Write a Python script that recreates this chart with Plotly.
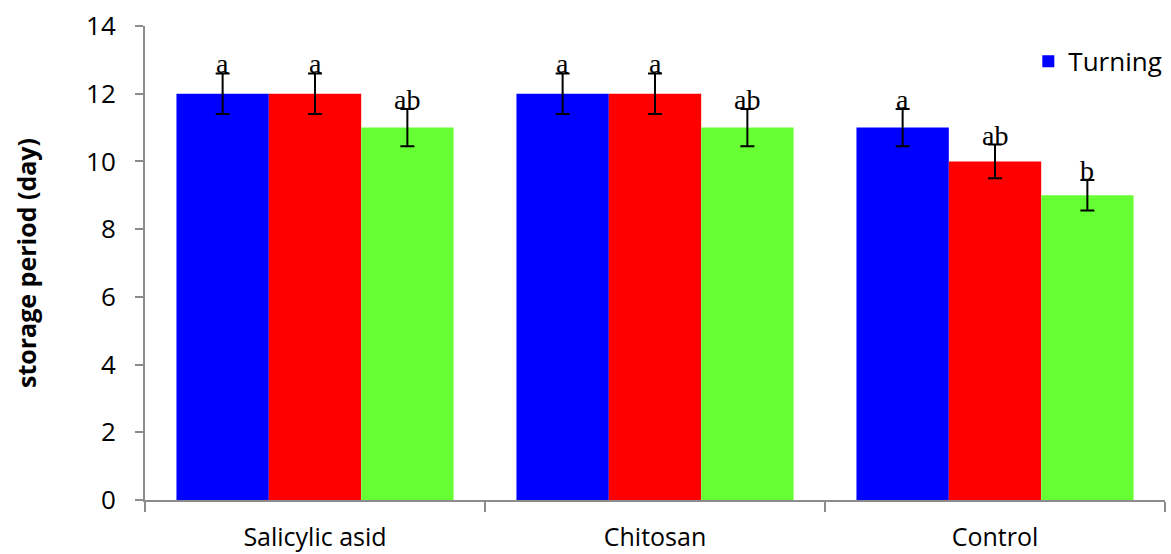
import plotly.graph_objects as go

categories = ["Salicylic asid", "Chitosan", "Control"]
series_names = ["Turning", "Series 2", "Series 3"]
series_values = [
    [12, 12, 11],
    [12, 12, 10],
    [11, 11, 9],
]
series_errors = [
    [0.6, 0.6, 0.55],
    [0.6, 0.6, 0.5],
    [0.55, 0.55, 0.45],
]
letters = [
    ["a", "a", "a"],
    ["a", "a", "ab"],
    ["ab", "ab", "b"],
]
colors = ["#0000FF", "#FF0000", "#66FF33"]

W, H = 1171, 554
ml, mr, mt, mb = 145, 6, 26, 54
bargap = 0.185
FONT = "Open Sans"

fig = go.Figure()
for i, (name, vals, errs) in enumerate(zip(series_names, series_values, series_errors)):
    fig.add_trace(go.Bar(
        x=categories, y=vals, name=name,
        marker=dict(color=colors[i], line=dict(width=0)),
        error_y=dict(type="data", array=errs, visible=True, color="black",
                     thickness=2, width=7),
        showlegend=(i == 0),
    ))

plot_w = W - ml - mr
cat_w = plot_w / len(categories)
bar_w = cat_w * (1 - bargap) / len(series_names)
for i in range(len(series_names)):
    for j, cat in enumerate(categories):
        fig.add_annotation(
            x=cat, y=series_values[i][j] + series_errors[i][j],
            xref="x", yref="y", text=letters[i][j], showarrow=False,
            xshift=(i - 1) * bar_w, yanchor="bottom", yshift=-8,
            font=dict(family="Liberation Serif", size=28, color="black"),
        )

fig.update_layout(
    width=W, height=H,
    margin=dict(l=ml, r=mr, t=mt, b=mb, autoexpand=False),
    paper_bgcolor="white", plot_bgcolor="white",
    barmode="group", bargap=bargap, bargroupgap=0,
    font=dict(family=FONT, color="black"),
    legend=dict(x=0.866, y=0.975, xanchor="left", yanchor="top",
                font=dict(family=FONT, size=26, color="black"),
                bgcolor="rgba(0,0,0,0)"),
    xaxis=dict(showline=True, linecolor="#8c8c8c", linewidth=2,
               ticks="outside", tickson="boundaries", ticklen=10,
               tickcolor="#8c8c8c", tickwidth=1.5,
               tickfont=dict(family=FONT, size=25, color="black"),
               ticklabelstandoff=14, showgrid=False, automargin=False),
    yaxis=dict(range=[0, 14], dtick=2, showline=True, linecolor="#8c8c8c",
               linewidth=2, ticks="outside", ticklen=8, tickcolor="#8c8c8c",
               tickwidth=1.5, showgrid=False, zeroline=False,
               tickfont=dict(family=FONT, size=26, color="black"),
               ticklabelstandoff=14, automargin=False,
               title=dict(text="<b>storage period (day)</b>",
                          font=dict(family=FONT, size=25, color="black"),
                          standoff=42)),
)

fig.write_html("out.html", config={"displayModeBar": False},
               post_script="document.body.style.margin='0';")
